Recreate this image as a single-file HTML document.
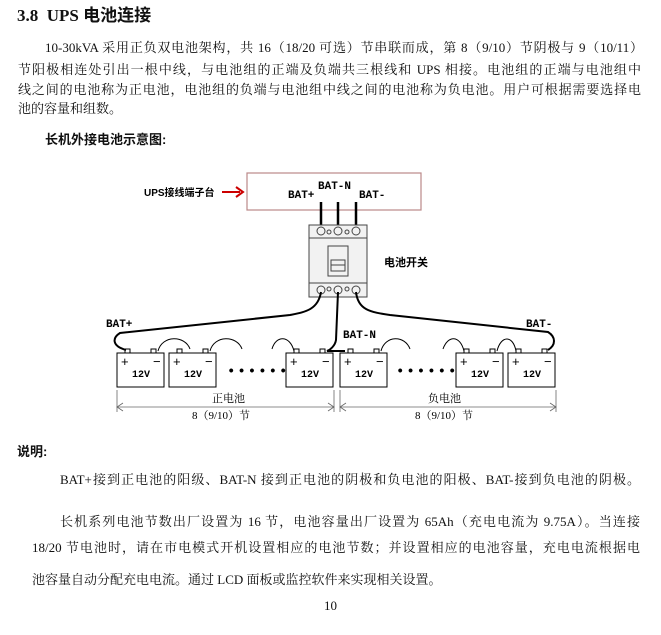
<!DOCTYPE html>
<html><head><meta charset="utf-8"><style>
body{margin:0;width:661px;height:635px;background:#fff;position:relative;overflow:hidden;font-family:"Liberation Serif","Noto Serif CJK SC",serif;color:#111;}
.l{position:absolute;font-size:13px;line-height:16px;white-space:nowrap;text-align:justify;text-align-last:justify;}
.b{font-family:"Liberation Sans","Noto Sans CJK SC",sans-serif;font-weight:bold;}
</style></head><body>
<div class="l" style="left:17px;top:6px;font-size:17px;line-height:20px;font-weight:bold;font-family:'Liberation Serif','Noto Sans CJK SC',serif;text-align-last:auto">3.8&nbsp;&nbsp;UPS 电池连接</div>
<div class="l" style="left:45px;top:40px;width:598px">10-30kVA 采用正负双电池架构，共 16（18/20 可选）节串联而成，第 8（9/10）节阴极与 9（10/11）</div>
<div class="l" style="left:18px;top:62px;width:623px">节阳极相连处引出一根中线，与电池组的正端及负端共三根线和 UPS 相接。电池组的正端与电池组中</div>
<div class="l" style="left:18px;top:82px;width:623px">线之间的电池称为正电池，电池组的负端与电池组中线之间的电池称为负电池。用户可根据需要选择电</div>
<div class="l" style="left:18px;top:101px;text-align-last:auto">池的容量和组数。</div>
<div class="l b" style="left:45px;top:132px;text-align-last:auto">长机外接电池示意图:</div>

<svg style="position:absolute;left:0;top:0" width="661" height="430" font-family="Liberation Mono, Noto Sans CJK SC, monospace" font-size="11" font-weight="bold">
<defs>
<g id="bt"><rect x="0" y="0" width="47" height="34" fill="#fff" stroke="#000"/><rect x="8" y="-4" width="5" height="4" fill="none" stroke="#000"/><rect x="34" y="-4" width="5" height="4" fill="none" stroke="#000"/><text x="4" y="13" font-size="13" font-family="Liberation Sans,sans-serif" font-weight="normal">+</text><text x="36" y="13" font-size="13" font-family="Liberation Sans,sans-serif" font-weight="normal">−</text><text x="15" y="24" font-family="Liberation Mono,monospace" font-weight="bold" font-size="10">12V</text></g>
</defs>
<text x="144" y="196" font-family="Liberation Sans,Noto Sans CJK SC,sans-serif" font-size="10">UPS接线端子台</text>
<line x1="222" y1="192" x2="240" y2="192" stroke="#c00" stroke-width="2"/>
<path d="M236 187 L243 192 L236 197" fill="none" stroke="#c00" stroke-width="2"/>
<rect x="247" y="173" width="174" height="37" fill="none" stroke="#b88" stroke-width="1.2"/>
<text x="318" y="189">BAT-N</text><text x="288" y="198">BAT+</text><text x="359" y="198">BAT-</text>
<g stroke="#000" stroke-width="2.5"><line x1="321" y1="202" x2="321" y2="229"/><line x1="338" y1="202" x2="338" y2="229"/><line x1="356" y1="202" x2="356" y2="229"/></g>
<rect x="309" y="225" width="58" height="72" fill="#f2f2f2" stroke="#444"/>
<line x1="309" y1="238" x2="367" y2="238" stroke="#444"/><line x1="309" y1="283" x2="367" y2="283" stroke="#444"/>
<rect x="328" y="246" width="20" height="30" fill="none" stroke="#444"/><rect x="331" y="260" width="14" height="11" fill="none" stroke="#444"/><line x1="331" y1="265" x2="345" y2="265" stroke="#444"/>
<g fill="none" stroke="#444"><circle cx="321" cy="231" r="4"/><circle cx="338" cy="231" r="4"/><circle cx="356" cy="231" r="4"/><circle cx="329" cy="232" r="2"/><circle cx="347" cy="232" r="2"/>
<circle cx="321" cy="290" r="4"/><circle cx="338" cy="290" r="4"/><circle cx="356" cy="290" r="4"/><circle cx="329" cy="289" r="2"/><circle cx="347" cy="289" r="2"/></g>
<text x="384" y="266" font-family="Liberation Sans,Noto Sans CJK SC,sans-serif">电池开关</text>
<g fill="none" stroke="#000" stroke-width="2">
<path d="M321 292 C318 310 305 312 290 315 L120 333 C112 338 112 346 126 350"/>
<path d="M338 292 L336 340 C335 346 330 350 327 351 L345 351"/>
<path d="M356 292 C358 310 370 312 390 315 L548 332 C556 337 556 345 548 350"/>
</g>
<text x="106" y="327">BAT+</text><text x="343" y="338">BAT-N</text><text x="526" y="327">BAT-</text>
<g fill="none" stroke="#000" stroke-width="1">
<path d="M158 351 C162 335 185 335 190 349"/><path d="M210 351 C214 335 237 335 242 349"/>
<path d="M272 349 C276 335 290 335 294 351"/><path d="M381 351 C385 335 405 335 410 349"/>
<path d="M443 349 C448 335 460 335 464 351"/><path d="M497 351 C501 335 513 335 516 351"/>
</g>
<use href="#bt" x="117" y="353"/><use href="#bt" x="169" y="353"/><use href="#bt" x="286" y="353"/><use href="#bt" x="340" y="353"/><use href="#bt" x="456" y="353"/><use href="#bt" x="508" y="353"/>
<text x="227" y="375" font-size="14" letter-spacing="2">••••••</text><text x="396" y="375" font-size="14" letter-spacing="2">••••••</text>
<g stroke="#666" fill="none" stroke-width="0.8">
<line x1="117" y1="390" x2="117" y2="412"/><line x1="334" y1="390" x2="334" y2="412"/><line x1="340" y1="390" x2="340" y2="412"/><line x1="556" y1="390" x2="556" y2="412"/>
<line x1="117" y1="407" x2="334" y2="407"/><line x1="340" y1="407" x2="556" y2="407"/>
<path d="M123 403 L117 407 L123 411 M328 403 L334 407 L328 411 M346 403 L340 407 L346 411 M550 403 L556 407 L550 411"/>
</g>
<g font-family="Liberation Serif,Noto Serif CJK SC,serif" font-weight="normal" font-size="11">
<text x="212" y="402">正电池</text><text x="428" y="402">负电池</text>
<text x="192" y="419">8（9/10）节</text><text x="415" y="419">8（9/10）节</text></g>
</svg>

<div class="l b" style="left:17px;top:444px;text-align-last:auto">说明:</div>
<div class="l" style="left:60px;top:472px;width:580px">BAT+接到正电池的阳级、BAT-N 接到正电池的阴极和负电池的阳极、BAT-接到负电池的阴极。</div>
<div class="l" style="left:60px;top:514px;width:580px">长机系列电池节数出厂设置为 16 节，电池容量出厂设置为 65Ah（充电电流为 9.75A）。当连接</div>
<div class="l" style="left:32px;top:540px;width:608px">18/20 节电池时，请在市电模式开机设置相应的电池节数；并设置相应的电池容量，充电电流根据电</div>
<div class="l" style="left:32px;top:572px;text-align-last:auto">池容量自动分配充电电流。通过 LCD 面板或监控软件来实现相关设置。</div>
<div class="l" style="left:324px;top:598px;text-align-last:auto">10</div>
</body></html>
